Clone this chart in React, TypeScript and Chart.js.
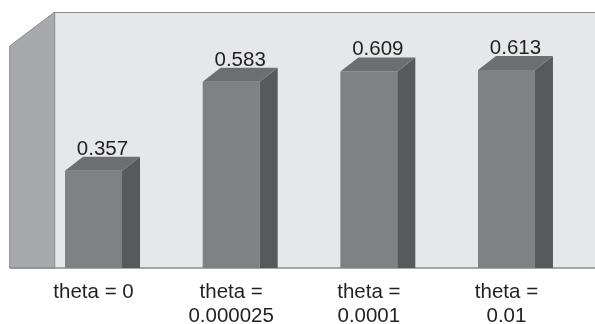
import React, { useEffect, useRef } from "react";
import { Chart, registerables } from "chart.js";

Chart.register(...registerables);

// ---- data ----
const categories: string[][] = [
  ["theta = 0"],
  ["theta =", "0.000025"],
  ["theta =", "0.0001"],
  ["theta =", "0.01"],
];
const values: number[] = [0.357, 0.583, 0.609, 0.613];
const valueLabels: string[] = ["0.357", "0.583", "0.609", "0.613"];
const axisMin = 0.11;
const axisMax = 0.76;

// ---- style ----
const FONT = "'Liberation Sans', Arial, Helvetica, sans-serif";
const TEXT = "#231f20";
const BACK_WALL = "#e6e7e8";
const SIDE_WALL = "#a7a9ac";
const WALL_EDGE = "#8a8b8e";
const BAR_FRONT = "#808184";
const BAR_SIDE = "#58595b";
const BAR_TOP = "#6d6e71";
const DX = 18;
const DY = 14;

const wallPlugin = {
  id: "wall3d",
  beforeDatasetsDraw(chart: any) {
    const { ctx, chartArea } = chart;
    const { left, top, bottom } = chartArea;
    const wallX = left + 30;
    const sideX = left - 15;
    const sideTop = top + 34;
    const right = chart.width;
    ctx.save();
    // back wall
    ctx.fillStyle = BACK_WALL;
    ctx.fillRect(wallX, top, right - wallX, bottom - top);
    // side wall
    ctx.beginPath();
    ctx.moveTo(sideX, sideTop);
    ctx.lineTo(wallX, top);
    ctx.lineTo(wallX, bottom);
    ctx.lineTo(sideX, bottom);
    ctx.closePath();
    ctx.fillStyle = SIDE_WALL;
    ctx.fill();
    ctx.strokeStyle = WALL_EDGE;
    ctx.lineWidth = 1;
    ctx.stroke();
    // back wall top edge
    ctx.beginPath();
    ctx.moveTo(wallX, top + 0.5);
    ctx.lineTo(right, top + 0.5);
    ctx.stroke();
    // floor line
    ctx.beginPath();
    ctx.lineWidth = 1.5;
    ctx.moveTo(sideX, bottom);
    ctx.lineTo(right, bottom);
    ctx.stroke();
    ctx.restore();
  },
  afterDatasetsDraw(chart: any) {
    const { ctx, chartArea } = chart;
    const meta = chart.getDatasetMeta(0);
    ctx.save();
    meta.data.forEach((bar: any, i: number) => {
      const l = bar.x - bar.width / 2;
      const r = bar.x + bar.width / 2;
      const y = bar.y;
      const base = Math.min(bar.base, chartArea.bottom);
      // side face
      ctx.beginPath();
      ctx.moveTo(r, y);
      ctx.lineTo(r + DX, y - DY);
      ctx.lineTo(r + DX, base);
      ctx.lineTo(r, base);
      ctx.closePath();
      ctx.fillStyle = BAR_SIDE;
      ctx.fill();
      // top face
      ctx.beginPath();
      ctx.moveTo(l, y);
      ctx.lineTo(l + DX, y - DY);
      ctx.lineTo(r + DX, y - DY);
      ctx.lineTo(r, y);
      ctx.closePath();
      ctx.fillStyle = BAR_TOP;
      ctx.fill();
      // value label
      ctx.fillStyle = TEXT;
      ctx.font = `20.5px ${FONT}`;
      ctx.textAlign = "center";
      ctx.textBaseline = "alphabetic";
      ctx.fillText(valueLabels[i], bar.x + DX / 2, y - DY - 2);
    });
    ctx.restore();
  },
};

export default function App() {
  const ref = useRef<HTMLCanvasElement>(null);
  useEffect(() => {
    if (!ref.current) return;
    const chart = new Chart(ref.current, {
      type: "bar",
      data: {
        labels: categories,
        datasets: [
          {
            data: values,
            backgroundColor: BAR_FRONT,
            borderWidth: 0,
            categoryPercentage: 1,
            barPercentage: 0.414,
          },
        ],
      },
      options: {
        animation: false,
        responsive: false,
        layout: { padding: { top: 12, left: 24.7, right: 19.7, bottom: 0 } },
        plugins: { legend: { display: false }, tooltip: { enabled: false } },
        scales: {
          y: { display: false, min: axisMin, max: axisMax },
          x: {
            offset: true,
            grid: { display: false, drawTicks: false },
            border: { display: false },
            ticks: {
              color: TEXT,
              font: { family: FONT, size: 20.5, lineHeight: 1.17 },
              padding: 12.5,
              maxRotation: 0,
              autoSkip: false,
            },
            afterFit: (scale: any) => {
              scale.height = 56;
            },
          },
        },
      },
      plugins: [wallPlugin],
    });
    return () => chart.destroy();
  }, []);
  return (
    <div style={{ position: "absolute", left: 0, top: 0, width: 595, height: 324 }}>
      <canvas ref={ref} width={595} height={324} style={{ display: "block" }} />
    </div>
  );
}
